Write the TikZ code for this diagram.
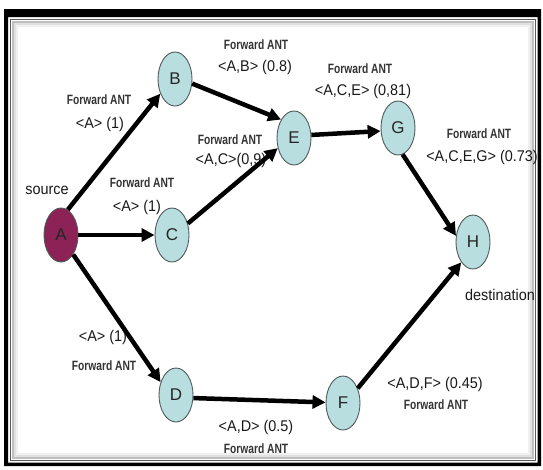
\documentclass[tikz,border=0pt]{standalone}
\usepackage{fontspec}
\setmainfont{Liberation Sans}
\newfontfamily\antfont[FakeStretch=0.76]{Liberation Sans}
\newfontfamily\lblfont[FakeStretch=0.93]{Liberation Sans}
\usetikzlibrary{arrows.meta,shapes.geometric}
\definecolor{nodefill}{RGB}{185,222,224}
\definecolor{srcfill}{RGB}{140,34,86}
\definecolor{nodeedge}{RGB}{80,90,90}
\begin{document}
\begin{tikzpicture}[x=1pt,y=-1pt,
  nd/.style={ellipse, draw=nodeedge, line width=0.9pt, fill=nodefill,
    minimum width=34pt, minimum height=54pt, inner sep=0pt,
    font=\fontsize{17}{17}\selectfont, text=black!85},
  arr/.style={line width=4.5pt, -{Triangle[length=13pt,width=13pt]}, black},
  ant/.style={font=\antfont\bfseries\fontsize{13.5}{13.5}\selectfont, text=black!80, inner sep=0pt},
  lbl/.style={font=\lblfont\fontsize{15.5}{15.5}\selectfont, text=black!90, inner sep=0pt}]
\useasboundingbox (0,0) rectangle (543,469);
% frame
\fill[black, even odd rule] (4,9) rectangle (541,466) (8,17) rectangle (537.5,462.5);
\draw[black!25, line width=2pt] (13,22) rectangle (533,458);
\draw[black!12, line width=2pt] (15,24) rectangle (531,456);
\draw[black!6, line width=2pt] (17,26) rectangle (529,454);
\draw[black!65, line width=1.2pt] (10.5,19.5) rectangle (535.5,460.5);
% labels
\node[ant] (l1a) at (99,100) {Forward ANT};
\node[lbl] (l1b) at (100,124) {<A> (1)};
\node[ant] (l2a) at (256,45) {Forward ANT};
\node[lbl] (l2b) at (255,67) {<A,B> (0.8)};
\node[ant] (l3a) at (360,69) {Forward ANT};
\node[lbl] (l3b) at (363,91) {<A,C,E> (0,81)};
\node[ant] (l4a) at (230,140) {Forward ANT};
\node[lbl] (l4b) at (231,160) {<A,C>(0,9)};
\node[ant] (l5a) at (142,183) {Forward ANT};
\node[lbl] (l5b) at (137,207) {<A> (1)};
\node[ant] (l6a) at (479,134) {Forward ANT};
\node[lbl] (l6b) at (482,157) {<A,C,E,G> (0.73)};
\node[lbl] (l7b) at (103,337) {<A> (1)};
\node[ant] (l7a) at (104,366) {Forward ANT};
\node[lbl] (l8b) at (256,427) {<A,D> (0.5)};
\node[ant] (l8a) at (256,449) {Forward ANT};
\node[lbl] (l9b) at (435,384) {<A,D,F> (0.45)};
\node[ant] (l9a) at (436,405) {Forward ANT};
\node[lbl] (src) at (47,190) {source};
\node[lbl] (dst) at (500,295) {destination};
% nodes
\node[nd, fill=srcfill] (A) at (61,235) {A};
\node[nd] (B) at (175,79) {B};
\node[nd] (C) at (172,235) {C};
\node[nd] (D) at (176,395) {D};
\node[nd] (E) at (294,138) {E};
\node[nd] (F) at (343,403) {F};
\node[nd] (G) at (398,128) {G};
\node[nd] (H) at (473,242) {H};
% arrows
\draw[arr] (A.75) -- (B.225);
\draw[arr] (A) -- (C);
\draw[arr] (A.-58) -- (D.140);
\draw[arr] (B.-15) -- (E.125);
\draw[arr] (C.36) -- (E.212);
\draw[arr] (E.10) -- (G.190);
\draw[arr] (G.-80) -- (H.160);
\draw[arr] (D.-10) -- (F.178);
\draw[arr] (F.45) -- (H.240);
\end{tikzpicture}
\end{document}
